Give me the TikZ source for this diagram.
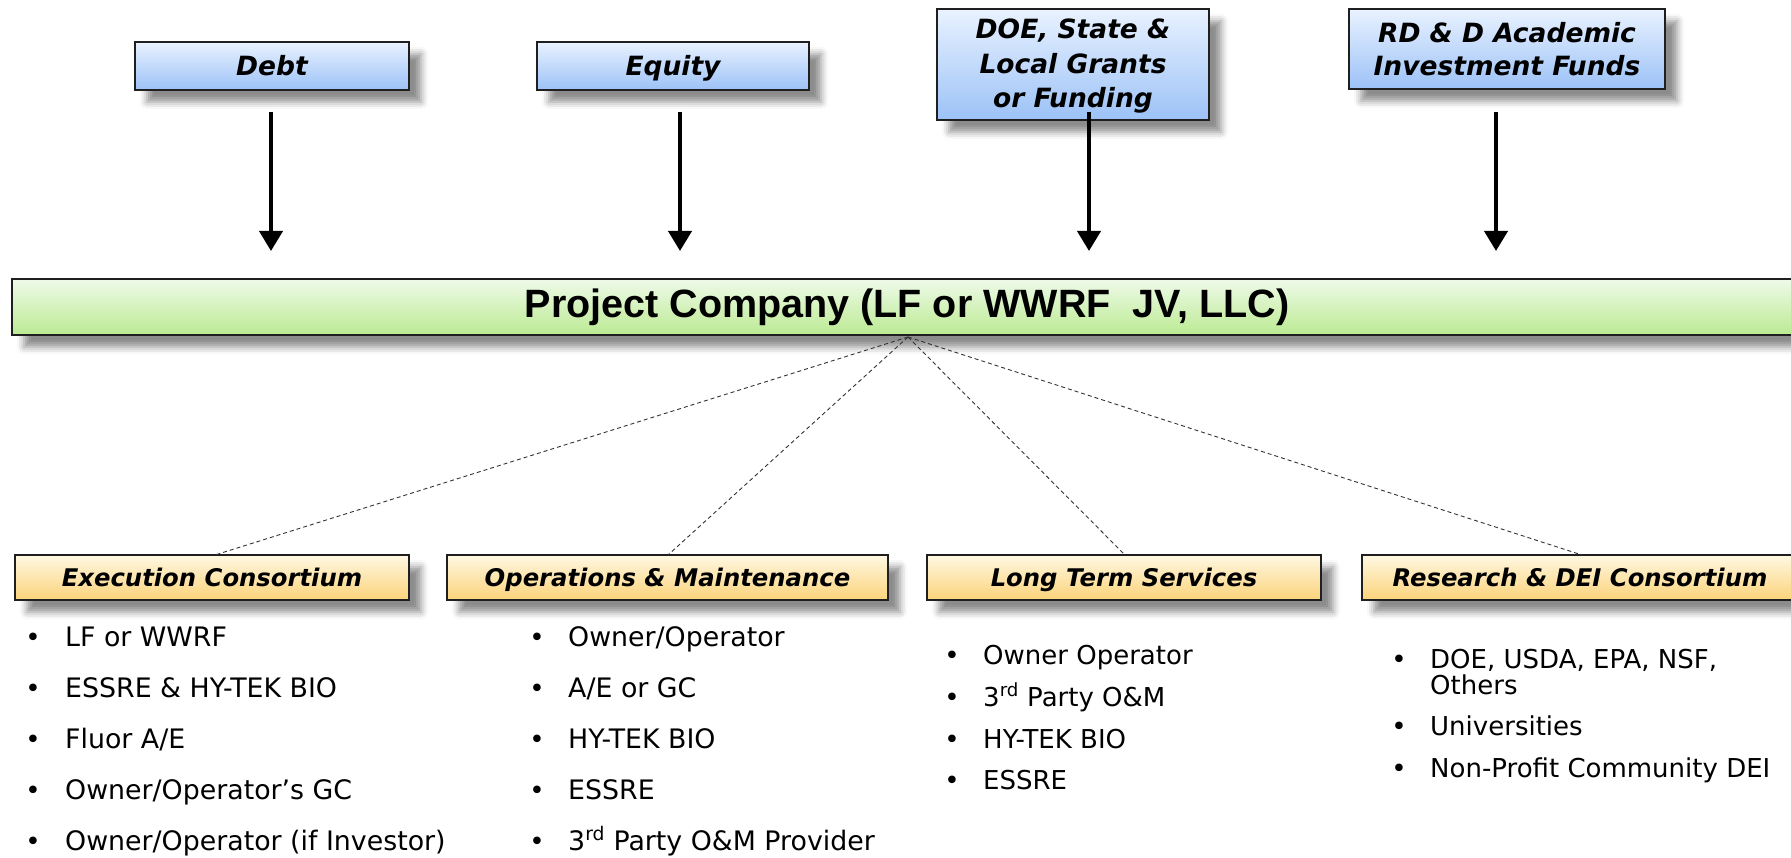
\documentclass[tikz,border=0pt]{standalone}
\usepackage{fontspec}
\setmainfont{DejaVu Sans}
\newfontfamily\hdfont{DejaVu Sans}
\newfontfamily\barfont{Liberation Sans}
\usetikzlibrary{arrows.meta,shadows.blur}

\definecolor{blueTop}{HTML}{E9F2FF}
\definecolor{blueBot}{HTML}{9CC2F7}
\definecolor{greenTop}{HTML}{EFFAE9}
\definecolor{greenBot}{HTML}{BBEA92}
\definecolor{goldTop}{HTML}{FFF8E2}
\definecolor{goldBot}{HTML}{FBD37A}

\tikzset{
  box/.style={draw=black!88, line width=2pt, rectangle, inner sep=0pt,
    blur shadow={shadow xshift=12pt, shadow yshift=-12pt,
                 shadow blur radius=7pt, shadow opacity=45}},
  fundbox/.style={box, top color=blueTop, bottom color=blueBot,
    font=\hdfont\bfseries\itshape\fontsize{26.5}{33.5}\selectfont, align=center},
  oneline/.style={text height=19.3pt, text depth=0pt},
  groupbox/.style={box, top color=goldTop, bottom color=goldBot,
    minimum height=45pt, text height=17.7pt, text depth=0pt,
    font=\hdfont\bfseries\itshape\fontsize{24.3}{26}\selectfont},
  companybar/.style={box, top color=greenTop, bottom color=greenBot,
    font=\barfont\bfseries\fontsize{39.5}{40}\selectfont},
  flow/.style={line width=4pt, -{Triangle[width=23pt,length=20pt]}},
  link/.style={draw=black!80, line width=0.9pt, dash pattern=on 4pt off 3pt},
  bigitem/.style={anchor=base west, inner sep=0pt, font=\fontsize{26.8}{30}\selectfont},
  smallitem/.style={anchor=base west, inner sep=0pt, font=\fontsize{26}{27}\selectfont},
  dot/.style={anchor=base, inner sep=0pt, font=\fontsize{26}{27}\selectfont}
}

\begin{document}
\begin{tikzpicture}[x=1pt,y=-1pt]
\useasboundingbox (0,0) rectangle (1791,858);

% funding sources
\node[fundbox, oneline, minimum width=274pt, minimum height=48pt] (debt) at (272,66) {Debt};
\node[fundbox, oneline, minimum width=272pt, minimum height=48pt] (equity) at (673,66) {Equity};
\node[fundbox, minimum width=272pt, minimum height=111pt] (grants) at (1073,64.5) {};
\node[font=\hdfont\bfseries\itshape\fontsize{26.5}{34.5}\selectfont, align=center,
      inner sep=0pt] (grantsTxt) at (1073,66.5) {DOE, State \&\\Local Grants\\or Funding};
\node[fundbox, minimum width=316pt, minimum height=80pt] (rdd) at (1507,49)
  {RD \& D Academic\\Investment Funds};

% project company
\node[companybar, minimum width=1790pt, minimum height=56pt] (company) at (907,307)
  {Project Company (LF or WWRF\ \ JV, LLC)};

% funding arrows
\coordinate (debtS) at (271,112);   \coordinate (debtE) at (271,251);
\coordinate (equityS) at (680,112); \coordinate (equityE) at (680,251);
\coordinate (grantsS) at (1089,112);\coordinate (grantsE) at (1089,251);
\coordinate (rddS) at (1496,112);   \coordinate (rddE) at (1496,251);
\draw[flow] (debtS) -- (debtE);
\draw[flow] (equityS) -- (equityE);
\draw[flow] (grantsS) -- (grantsE);
\draw[flow] (rddS) -- (rddE);

% participant groups
\node[groupbox, minimum width=394pt] (exec) at (212,577.5) {Execution Consortium};
\node[groupbox, minimum width=441pt] (om) at (667.5,577.5) {Operations \& Maintenance};
\node[groupbox, minimum width=394pt] (lts) at (1124,577.5) {Long Term Services};
\node[groupbox, minimum width=436pt] (rde) at (1580,577.5) {Research \& DEI Consortium};

% dashed links from the company
\coordinate (hub) at (908,337);
\coordinate (execT) at (215,555);
\coordinate (omT) at (668,555);
\coordinate (ltsT) at (1125,555);
\coordinate (rdeT) at (1582,555);
\draw[link] (hub) -- (execT);
\draw[link] (hub) -- (omT);
\draw[link] (hub) -- (ltsT);
\draw[link] (hub) -- (rdeT);

% member lists
\foreach \yy/\t [count=\i] in {646/{LF or WWRF}, 697/{ESSRE \& HY-TEK BIO}, 748/{Fluor A/E},
    799/{Owner/Operator’s GC}, 850/{Owner/Operator (if Investor)}}{
  \node[dot] (exb\i) at (33,\yy) {\textbullet};
  \node[bigitem] (ex\i) at (65,\yy) {\t};
}
\foreach \yy/\t [count=\i] in {646/{Owner/Operator}, 697/{A/E or GC}, 748/{HY-TEK BIO},
    799/{ESSRE}, 850/{3\textsuperscript{rd} Party O\&M Provider}}{
  \node[dot] (omb\i) at (537,\yy) {\textbullet};
  \node[bigitem] (om\i) at (568,\yy) {\t};
}
\foreach \yy/\t [count=\i] in {664/{Owner Operator}, 706/{3\textsuperscript{rd} Party O\&M},
    748/{HY-TEK BIO}, 789/{ESSRE}}{
  \node[dot] (ltb\i) at (952,\yy) {\textbullet};
  \node[smallitem] (lt\i) at (983,\yy) {\t};
}
\foreach \yy/\t [count=\i] in {668/{DOE, USDA, EPA, NSF,}, 735/{Universities},
    777/{Non-Profit Community DEI}}{
  \node[dot] (rdb\i) at (1399,\yy) {\textbullet};
  \node[smallitem] (rd\i) at (1430,\yy) {\t};
}
\node[smallitem] (rd1b) at (1430,694) {Others};
\end{tikzpicture}
\end{document}
